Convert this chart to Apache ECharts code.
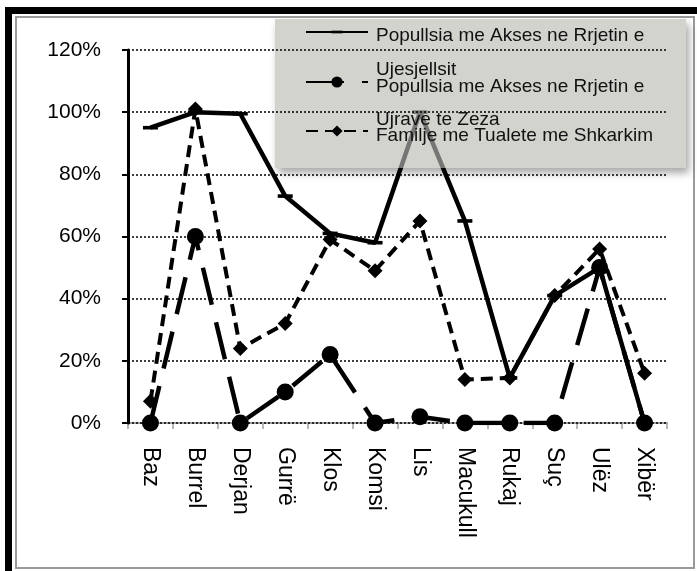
<!DOCTYPE html>
<html>
<head>
<meta charset="utf-8">
<script src="https://cdn.jsdelivr.net/npm/echarts@6/dist/echarts.min.js"></script>
<style>
html,body{margin:0;padding:0;background:#fff;}
#c{width:697px;height:571px;}
</style>
</head>
<body>
<div id="c"></div>
<script>
const categories = ['Baz','Burrel','Derjan','Gurrë','Klos','Komsi','Lis','Macukull','Rukaj','Suç','Ulëz','Xibër'];
const seriesNames = [
  'Popullsia me Akses ne Rrjetin e Ujesjellsit',
  'Popullsia me Akses ne Rrjetin e Ujrave te Zeza',
  'Familje me Tualete me Shkarkim'
];
const ujesjellsit = [95, 100, 99.5, 73, 61, 58, 100, 65, 14.5, 41, 50, 0];
const ujraveZeza = [0, 60, 0, 10, 22, 0, 2, 0, 0, 0, 50, 0];
const tualete = [7, 101, 24, 32, 59, 49, 65, 14, 14.5, 41, 56, 16];
const yTicks = [0, 20, 40, 60, 80, 100, 120];

const FONT = '"Liberation Sans", Arial, sans-serif';
const DASH_SYMBOL = 'path://M0,0 M100,100 M0,38L100,38L100,62L0,62Z';

const chart = echarts.init(document.getElementById('c'), null, {renderer: 'canvas'});

const legendTexts = [
  {t: 'Popullsia me Akses ne Rrjetin e', y: 37},
  {t: 'Ujesjellsit', y: 71},
  {t: 'Popullsia me Akses ne Rrjetin e', y: 88},
  {t: 'Ujrave te Zeza', y: 121},
  {t: 'Familje me Tualete me Shkarkim', y: 137}
];

const option = {
  backgroundColor: '#fff',
  animation: false,
  grid: {left: 128, right: 30, top: 50, bottom: 148, containLabel: false},
  xAxis: {
    type: 'category',
    data: categories,
    boundaryGap: true,
    axisLine: {lineStyle: {color: '#a0a0a0', width: 2}},
    axisTick: {show: true, alignWithLabel: false, length: 6, lineStyle: {color: '#a0a0a0', width: 1.5}},
    axisLabel: {rotate: -90, margin: 24, fontSize: 23, color: '#000', fontFamily: FONT, interval: 0}
  },
  yAxis: {
    type: 'value',
    min: yTicks[0],
    max: yTicks[yTicks.length - 1],
    interval: 20,
    z: 4,
    axisLine: {show: true, lineStyle: {color: '#000', width: 3}},
    axisTick: {show: true, length: 6, lineStyle: {color: '#000', width: 2}},
    axisLabel: {formatter: '{value}%', fontSize: 21, color: '#000', fontFamily: FONT, margin: 27},
    splitLine: {show: true, lineStyle: {color: '#000', width: 1.5, type: [2, 2]}}
  },
  legend: seriesNames.map((n, i) => ({
    data: [n],
    left: 305,
    top: [25, 75, 124][i],
    itemWidth: 62,
    itemHeight: 14,
    padding: 0,
    z: 6,
    selectedMode: false,
    formatter: () => '',
    textStyle: {fontSize: 1}
  })),
  series: [
    {
      name: seriesNames[0], type: 'line', data: ujesjellsit, z: 2,
      symbol: DASH_SYMBOL, symbolSize: 15,
      lineStyle: {color: '#000', width: 4.5, type: 'solid'},
      itemStyle: {color: '#000'}
    },
    {
      name: seriesNames[1], type: 'line', data: ujraveZeza, z: 2,
      symbol: 'circle', symbolSize: 17,
      lineStyle: {color: '#000', width: 4.5, type: [38, 18]},
      itemStyle: {color: '#000'}
    },
    {
      name: seriesNames[2], type: 'line', data: tualete, z: 2,
      symbol: 'diamond', symbolSize: 15,
      lineStyle: {color: '#000', width: 4, type: [12, 7]},
      itemStyle: {color: '#000'}
    }
  ],
  graphic: {
    elements: [
      {type: 'rect', z: 0, shape: {x: 5, y: 7, width: 692, height: 7}, style: {fill: '#000'}},
      {type: 'rect', z: 0, shape: {x: 5, y: 7, width: 7, height: 564}, style: {fill: '#000'}},
      {type: 'rect', z: 0, shape: {x: 16, y: 17, width: 678, height: 551}, style: {fill: 'none', stroke: '#9a9a9a', lineWidth: 2}},
      {type: 'rect', z: 1, shape: {x: 275, y: 19, width: 411, height: 149},
       style: {fill: 'rgb(211,211,206)', shadowBlur: 8, shadowOffsetX: 3, shadowOffsetY: 5, shadowColor: 'rgba(0,0,0,0.35)'}},
      {type: 'rect', z: 3, shape: {x: 275, y: 19, width: 411, height: 149},
       style: {fill: 'rgba(211,211,206,0.56)'}}
    ].concat(legendTexts.map(o => ({
      type: 'text', z: 7, left: 376, top: o.y - 11,
      style: {text: o.t, fill: '#111', font: '19px ' + FONT}
    })))
  }
};
chart.setOption(option);
</script>
</body>
</html>
